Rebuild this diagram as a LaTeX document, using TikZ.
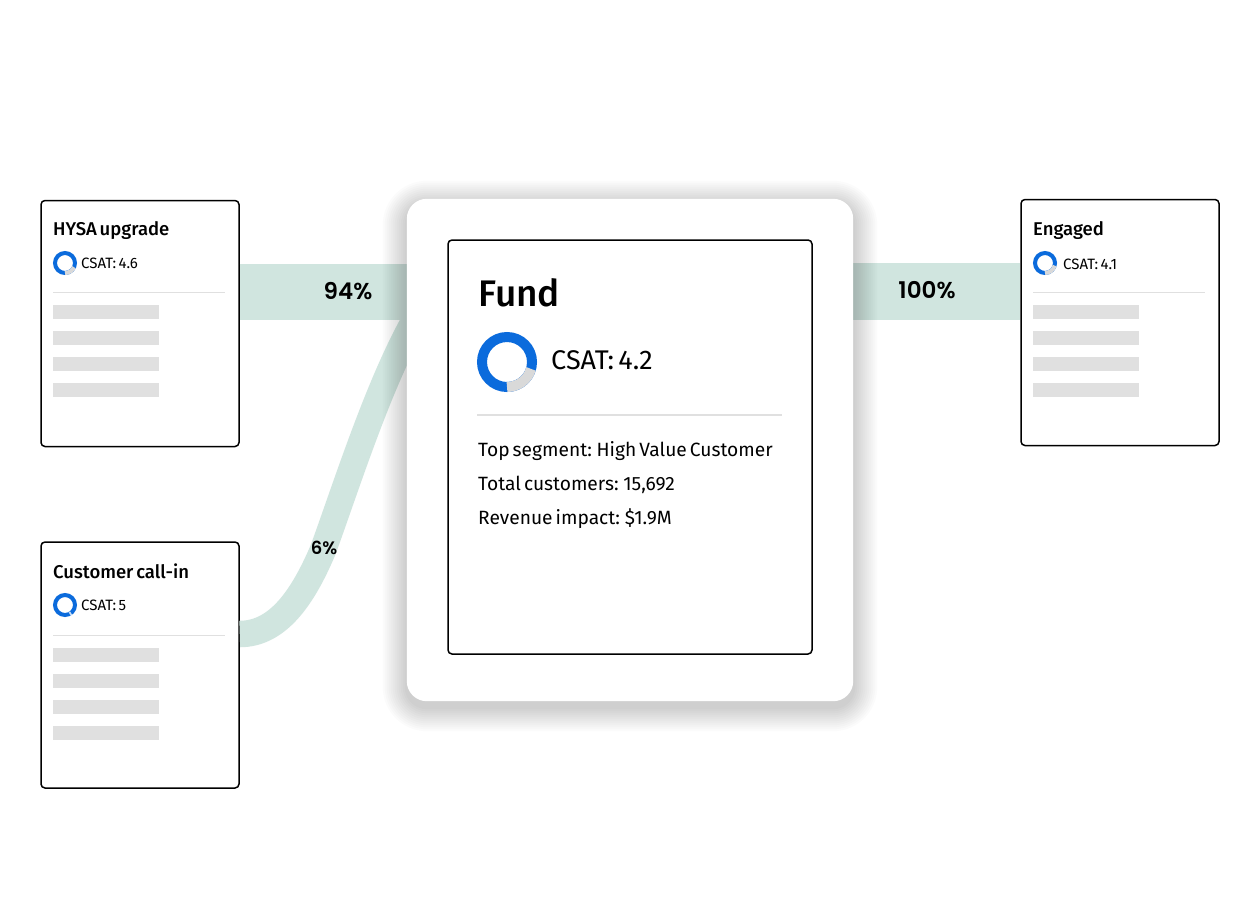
\documentclass[tikz,border=0pt]{standalone}
\usepackage{fontspec}
\setmainfont{Fira Sans}[BoldFont=Fira Sans Medium, WordSpace=0.6]
\newfontfamily\percentfont{Poppins}[BoldFont=Poppins SemiBold]
\usetikzlibrary{arrows.meta, calc}

\definecolor{bandgreen}{HTML}{D0E5DF}
\definecolor{ringblue}{HTML}{0B6BDC}
\definecolor{ringgrey}{HTML}{D9D9D9}
\definecolor{barfill}{HTML}{E0E0E0}

\tikzset{
    card/.style={draw=black, line width=1.5, fill=white, rounded corners=4, inner sep=0, minimum width=198, minimum height=246},
    cardtitle/.style={anchor=base west, inner sep=0, font=\bfseries\fontsize{18.5}{20}\selectfont},
    smallcsat/.style={anchor=base west, inner sep=0, font=\fontsize{15}{18}\selectfont},
    bigline/.style={anchor=base west, inner sep=0, font=\fontsize{19.2}{24}\selectfont},
    percent/.style={anchor=base, inner sep=0, font=\percentfont\bfseries\fontsize{23}{26}\selectfont},
    band/.style={draw=bandgreen, line cap=butt}
}

% centre, radius, ring width, angle where the grey part stops
\newcommand{\csatring}[4]{
    \draw [color=ringblue, line width=#3] (#1) circle (#2);
    \draw [color=ringgrey, line width=#3] ($(#1)+(270:#2)$) arc (270:#4:#2);
}

\begin{document}
\begin{tikzpicture}[x=1pt, y=1pt]
    \useasboundingbox (0,0) rectangle (1260,-900);
    \fill [white] (0,0) rectangle (1260,-900);

    \node [card] (hysa) at (140,-323.5) {};
    \node [card] (callin) at (140,-665) {};
    \node [card] (engaged) at (1120,-322.5) {};
    \node [draw=none, inner sep=0, minimum width=446, minimum height=502] (fund) at (630,-450) {};

    \coordinate (hysaout) at (hysa.east |- 0,-292);
    \coordinate (callout) at (callin.east |- 0,-634);
    \coordinate (engagedin) at (engaged.west |- 0,-291.5);
    \coordinate (fundinhigh) at (fund.west |- 0,-292);
    \coordinate (fundinlow) at (415,-320);
    \coordinate (fundout) at (fund.east |- 0,-291.5);

    \draw [band, line width=26.5] (callout) .. controls (278,-634) and (303,-597) .. (323,-550) .. controls (345,-490) and (378,-385) .. (fundinlow);
    \draw [band, line width=56] (hysaout) -- (fundinhigh);
    \draw [band, line width=57] (fundout) -- (engagedin);

    % soft shadow under the big card
    \foreach \s in {24,22,...,2} {
        \fill [black, opacity=0.014, rounded corners=20+\s] ($(fund.south west)+(-\s,-\s-6)$) rectangle ($(fund.north east)+(\s,\s-6)$);
    }
    \fill [white, rounded corners=20] (fund.south west) rectangle (fund.north east);
    \node [draw=black, line width=1.5, rounded corners=4, inner sep=0, minimum width=364, minimum height=414] (fundbox) at (630,-447) {};

    \node [percent] (hysapct) at (348,-299) {94\%};
    \node [percent] (fundpct) at (927,-298) {100\%};
    \node [percent, font=\percentfont\bfseries\fontsize{18}{20}\selectfont] (callpct) at (324,-554) {6\%};

    \node [cardtitle] (hysatitle) at (53,-235) {HYSA upgrade};
    \csatring{65,-263}{10}{4}{335}
    \node [smallcsat] (hysacsat) at (81,-268.5) {CSAT: 4.6};
    \draw [color=barfill, line width=1] (53,-292) -- (225,-292);
    \foreach \y in {305,331,357,383} {
        \fill [barfill] (53,-\y) rectangle (159,-\y-14);
    }

    \node [cardtitle] (callintitle) at (53,-578) {Customer call-in};
    \csatring{65,-605}{10}{4}{270}
    \draw [color=ringblue!25, line width=4] (69.6,-613.9) arc (297:307:10);
    \node [smallcsat] (callincsat) at (81,-610.5) {CSAT: 5};
    \draw [color=barfill, line width=1] (53,-635) -- (225,-635);
    \foreach \y in {648,674,700,726} {
        \fill [barfill] (53,-\y) rectangle (159,-\y-14);
    }

    \node [cardtitle] (engagedtitle) at (1033,-235) {Engaged};
    \csatring{1045,-263}{10}{4}{345}
    \node [smallcsat] (engagedcsat) at (1063,-269) {CSAT: 4.1};
    \draw [color=barfill, line width=1] (1033,-292) -- (1205,-292);
    \foreach \y in {305,331,357,383} {
        \fill [barfill] (1033,-\y) rectangle (1139,-\y-14);
    }

    \node [anchor=base west, inner sep=0, font=\bfseries\fontsize{37}{44}\selectfont] (fundtitle) at (478,-306) {Fund};
    \csatring{507,-362}{25}{10}{344}
    \node [anchor=base west, inner sep=0, font=\fontsize{27}{32}\selectfont] (fundcsat) at (551,-369.5) {CSAT: 4.2};
    \draw [color=barfill, line width=2] (477,-414.5) -- (782,-414.5);
    \node [bigline] (segment) at (478,-456) {Top segment: High Value Customer};
    \node [bigline] (customers) at (478,-490) {Total customers: 15,692};
    \node [bigline] (revenue) at (478,-524) {Revenue impact: \$1.9M};
\end{tikzpicture}
\end{document}
